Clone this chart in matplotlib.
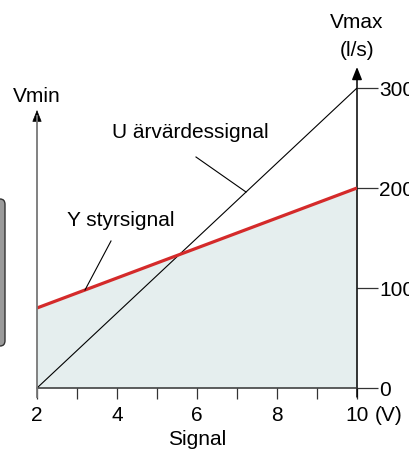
import matplotlib
matplotlib.use("Agg")
import matplotlib.pyplot as plt
from matplotlib.patches import FancyBboxPatch

plt.rcParams['font.family'] = ['Liberation Sans', 'DejaVu Sans']

signal = [2, 10]
y_styr = [80, 200]        # Y styrsignal (red)
u_arvarde = [0, 300]      # U ärvärdessignal (black)
x_ticks = [2, 3, 4, 5, 6, 7, 8, 9, 10]
x_labels = ['2', '', '4', '', '6', '', '8', '', '10']
y_ticks = [0, 100, 200, 300]
y_labels = ['0', '100', '200', '300']

FS = 15
W, H = 410, 450
fig = plt.figure(figsize=(W / 100, H / 100), dpi=100)
ax = fig.add_axes([37 / W, (H - 388) / H, 320 / W, 300 / H])
ax.set_xlim(2, 10)
ax.set_ylim(0, 300)
for s in ax.spines.values():
    s.set_visible(False)

red = '#d42a2a'
ax.fill_between(signal, [0, 0], y_styr, color='#e5eeee', lw=0, zorder=1)
ax.plot(signal, u_arvarde, color='black', lw=0.8, zorder=3)
ax.plot(signal, y_styr, color=red, lw=2.3, zorder=4, solid_capstyle='butt')
# bottom axis line
ax.plot([2, 10], [0, 0], color='#333333', lw=1.1, zorder=5, clip_on=False)

# left axis (gray) with black arrow head
ax.plot([2, 2], [-9, 272], color='#777777', lw=1.3, zorder=5, clip_on=False)
ax.annotate('', xy=(2, 278), xytext=(2, 266), xycoords='data',
            arrowprops=dict(arrowstyle='-|>,head_length=0.75,head_width=0.3',
                            color='black', lw=0.5, shrinkA=0, shrinkB=0),
            annotation_clip=False)
# right axis (black) with arrow
ax.annotate('', xy=(10, 321), xytext=(10, -9), xycoords='data',
            arrowprops=dict(arrowstyle='-|>,head_length=0.75,head_width=0.3',
                            color='black', lw=1.1, shrinkA=0, shrinkB=0),
            annotation_clip=False)

ax.set_xticks(x_ticks)
ax.set_xticklabels(x_labels)
ax.tick_params(axis='x', direction='out', length=8, width=0.9, color='#333333',
               labelsize=FS, pad=5)
ax.yaxis.tick_right()
ax.set_yticks(y_ticks)
ax.set_yticklabels(y_labels)
ax.tick_params(axis='y', direction='out', length=15, width=0.9, color='#333333',
               labelsize=FS, pad=1)

ax.annotate('(V)', xy=(10, 0), xycoords='data', xytext=(13, -19.5),
            textcoords='offset points', fontsize=FS, ha='left', va='center',
            annotation_clip=False)
ax.text(0.5, -0.173, 'Signal', transform=ax.transAxes, ha='center', va='center',
        fontsize=FS)

fig.text(37 / W, 1 - 97 / H, 'Vmin', ha='center', va='center', fontsize=FS)
fig.text(357 / W, 1 - 22 / H, 'Vmax', ha='center', va='center', fontsize=FS)
fig.text(357 / W, 1 - 50 / H, '(l/s)', ha='center', va='center', fontsize=FS)

# leader labels
fig.text(190 / W, 1 - 133 / H, 'U ärvärdessignal', ha='center', va='center', fontsize=FS)
fig.text(121 / W, 1 - 221 / H, 'Y styrsignal', ha='center', va='center', fontsize=FS)
fig.add_artist(plt.Line2D([196 / W, 246 / W], [1 - 157 / H, 1 - 192 / H],
                          color='black', lw=0.8))
fig.add_artist(plt.Line2D([111 / W, 85 / W], [1 - 241 / H, 1 - 290 / H],
                          color='black', lw=0.8))

# partially visible box at the left edge
box = FancyBboxPatch((-20 / W, 1 - 346 / H), 25 / W, 147 / H,
                     boxstyle='round,pad=0,rounding_size=0.012',
                     transform=fig.transFigure, facecolor='#9a9a9a',
                     edgecolor='#333333', lw=1.0)
fig.add_artist(box)

fig.savefig('out.png', dpi=100)
